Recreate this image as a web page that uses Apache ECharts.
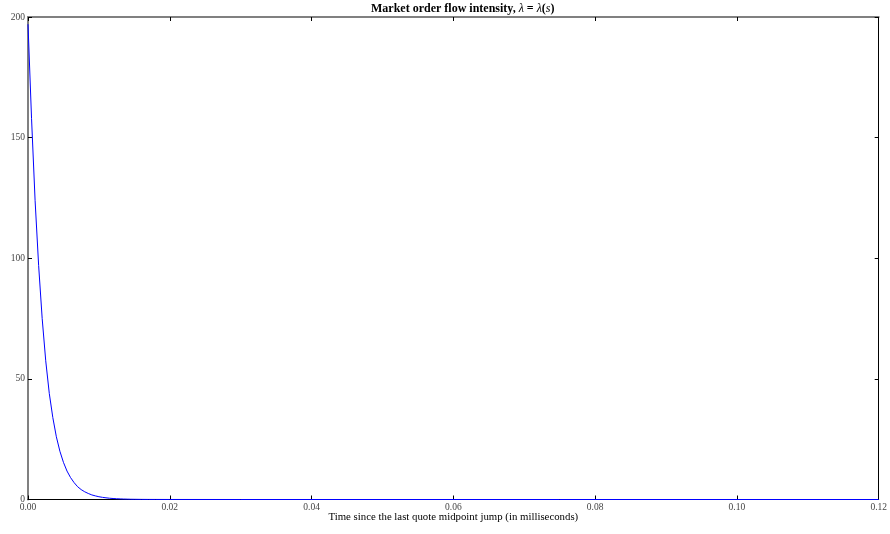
<!DOCTYPE html>
<html><head><meta charset="utf-8">
<script src="https://cdn.jsdelivr.net/npm/echarts@6/dist/echarts.min.js"></script>
<style>html,body{margin:0;padding:0;background:#fff}#c{width:890px;height:534px}</style>
</head><body><div id="c"></div>
<script>
// time since last midpoint jump (ms)
const times = [0, 0.0005, 0.001, 0.0015, 0.002, 0.0025, 0.003, 0.0035, 0.004, 0.0045,
  0.005, 0.0055, 0.006, 0.0065, 0.007, 0.0075, 0.008, 0.0085, 0.009, 0.0095,
  0.010, 0.0105, 0.011, 0.0115, 0.012, 0.0125, 0.013, 0.0135, 0.014, 0.0145,
  0.015, 0.016, 0.017, 0.018, 0.020, 0.030, 0.120];
// intensity lambda(s)
const intensity = [197, 158, 124, 97, 75, 57.5, 44, 34, 26, 20,
  15.4, 11.8, 9.1, 7.0, 5.3, 4.1, 3.2, 2.5, 1.9, 1.5,
  1.15, 0.9, 0.7, 0.53, 0.41, 0.32, 0.25, 0.19, 0.15, 0.11,
  0.09, 0.05, 0.03, 0.02, 0.01, 0, 0];
const xTicks = [0, 0.02, 0.04, 0.06, 0.08, 0.10, 0.12];
const yTicks = [0, 50, 100, 150, 200];

const FONT = '"Liberation Serif","DejaVu Serif",serif';
const chart = echarts.init(document.getElementById('c'), null, {renderer: 'canvas'});
chart.setOption({
  animation: false,
  backgroundColor: '#fff',
  title: {
    text: 'Market order flow intensity, {i|λ} = {i|λ}({i|s})',
    left: 366, top: -2,
    textStyle: {
      fontFamily: FONT, fontSize: 12, fontWeight: 'bold', color: '#000',
      rich: { i: { fontFamily: FONT, fontSize: 12, fontStyle: 'italic', fontWeight: 'normal', color: '#000' } }
    }
  },
  grid: { left: 28, right: 9, top: 17, bottom: 34.5, containLabel: false },
  xAxis: [{
    type: 'value', min: 0, max: 0.12, interval: 0.02, position: 'bottom',
    name: 'Time since the last quote midpoint jump (in milliseconds)',
    nameLocation: 'middle', nameGap: 17.5, nameMoveOverlap: false,
    nameTextStyle: { fontFamily: FONT, fontSize: 10.8, color: '#000', verticalAlign: 'middle' },
    axisLine: { show: true, onZero: false, lineStyle: { color: '#000', width: 1 } },
    axisTick: { show: true, inside: true, length: 4, lineStyle: { color: '#000' } },
    axisLabel: { fontFamily: FONT, fontSize: 9.5, color: '#444', margin: 3,
      formatter: v => v.toFixed(2) },
    splitLine: { show: false }
  }, {
    type: 'value', min: 0, max: 0.12, interval: 0.02, position: 'top',
    axisLine: { show: true, onZero: false, lineStyle: { color: '#808080', width: 2 } },
    axisTick: { show: true, inside: true, length: 4, lineStyle: { color: '#000' } },
    axisLabel: { show: false }, splitLine: { show: false }
  }],
  yAxis: [{
    type: 'value', min: 0, max: 200, interval: 50, position: 'left',
    axisLine: { show: true, onZero: false, lineStyle: { color: '#808080', width: 2 } },
    axisTick: { show: true, inside: true, length: 4, lineStyle: { color: '#000' } },
    axisLabel: { fontFamily: FONT, fontSize: 9.5, color: '#444', margin: 3 },
    splitLine: { show: false }
  }, {
    type: 'value', min: 0, max: 200, interval: 50, position: 'right',
    axisLine: { show: true, onZero: false, lineStyle: { color: '#000', width: 1 } },
    axisTick: { show: true, inside: true, length: 4, lineStyle: { color: '#000' } },
    axisLabel: { show: false }, splitLine: { show: false }
  }],
  series: [{
    type: 'line', xAxisIndex: 0, yAxisIndex: 0,
    data: times.map((t, i) => [t, intensity[i]]),
    showSymbol: false, smooth: false,
    lineStyle: { color: '#0000ff', width: 1 },
    z: 1
  }]
});
</script></body></html>
